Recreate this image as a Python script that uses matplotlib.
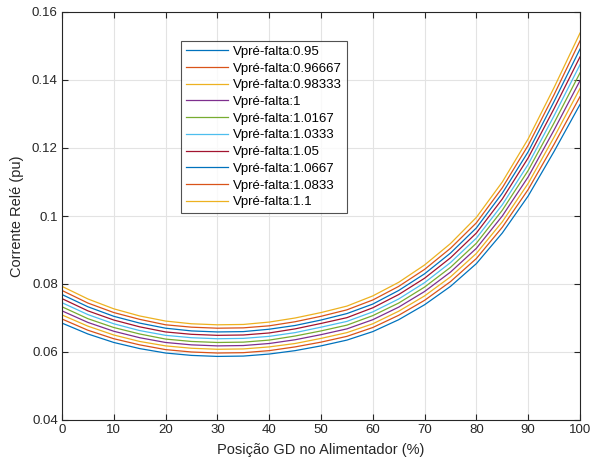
import numpy as np
import matplotlib
matplotlib.use('Agg')
import matplotlib.pyplot as plt
from matplotlib.ticker import FormatStrFormatter

plt.rcParams['font.family'] = ['Liberation Sans', 'DejaVu Sans']

# posicao da GD no alimentador (%)
posicao = [0, 5, 10, 15, 20, 25, 30, 35, 40, 45, 50, 55, 60, 65, 70, 75, 80, 85, 90, 95, 100]

legendas = ['Vpré-falta:0.95', 'Vpré-falta:0.96667', 'Vpré-falta:0.98333', 'Vpré-falta:1',
            'Vpré-falta:1.0167', 'Vpré-falta:1.0333', 'Vpré-falta:1.05', 'Vpré-falta:1.0667',
            'Vpré-falta:1.0833', 'Vpré-falta:1.1']

# corrente no rele (pu), uma lista por tensao pre-falta
i_095 = [0.0685, 0.0653, 0.0628, 0.0610, 0.0597, 0.0590, 0.0587, 0.0588, 0.0594, 0.0604, 0.0618,
         0.0635, 0.0660, 0.0695, 0.0739, 0.0793, 0.0860, 0.0950, 0.1059, 0.1190, 0.1328]
i_0967 = [0.0697, 0.0664, 0.0639, 0.0621, 0.0607, 0.0600, 0.0597, 0.0598, 0.0604, 0.0615, 0.0629,
          0.0646, 0.0672, 0.0708, 0.0752, 0.0807, 0.0875, 0.0967, 0.1078, 0.1211, 0.1351]
i_0983 = [0.0709, 0.0676, 0.0650, 0.0631, 0.0618, 0.0611, 0.0608, 0.0609, 0.0615, 0.0625, 0.0640,
          0.0657, 0.0683, 0.0720, 0.0765, 0.0821, 0.0890, 0.0983, 0.1096, 0.1232, 0.1375]
i_100 = [0.0721, 0.0687, 0.0661, 0.0642, 0.0628, 0.0621, 0.0618, 0.0619, 0.0625, 0.0636, 0.0651,
         0.0668, 0.0695, 0.0732, 0.0778, 0.0835, 0.0905, 0.1000, 0.1115, 0.1253, 0.1398]
i_1017 = [0.0733, 0.0698, 0.0672, 0.0653, 0.0638, 0.0631, 0.0628, 0.0629, 0.0635, 0.0647, 0.0662,
          0.0679, 0.0707, 0.0744, 0.0791, 0.0849, 0.0920, 0.1017, 0.1134, 0.1274, 0.1421]
i_1033 = [0.0745, 0.0710, 0.0683, 0.0663, 0.0649, 0.0642, 0.0639, 0.0640, 0.0646, 0.0657, 0.0673,
          0.0690, 0.0718, 0.0756, 0.0804, 0.0863, 0.0935, 0.1033, 0.1152, 0.1295, 0.1445]
i_105 = [0.0757, 0.0721, 0.0694, 0.0674, 0.0659, 0.0652, 0.0649, 0.0650, 0.0656, 0.0668, 0.0684,
         0.0701, 0.0730, 0.0769, 0.0817, 0.0877, 0.0950, 0.1050, 0.1171, 0.1316, 0.1468]
i_1067 = [0.0769, 0.0733, 0.0705, 0.0685, 0.0670, 0.0662, 0.0659, 0.0660, 0.0667, 0.0678, 0.0694,
          0.0713, 0.0741, 0.0781, 0.0830, 0.0891, 0.0965, 0.1067, 0.1189, 0.1337, 0.1491]
i_1083 = [0.0781, 0.0744, 0.0716, 0.0696, 0.0680, 0.0673, 0.0670, 0.0671, 0.0677, 0.0689, 0.0705,
          0.0724, 0.0753, 0.0793, 0.0843, 0.0905, 0.0980, 0.1083, 0.1208, 0.1357, 0.1515]
i_110 = [0.0793, 0.0756, 0.0727, 0.0706, 0.0691, 0.0683, 0.0680, 0.0681, 0.0688, 0.0700, 0.0716,
         0.0735, 0.0765, 0.0805, 0.0856, 0.0919, 0.0996, 0.1100, 0.1227, 0.1378, 0.1538]

correntes = [i_095, i_0967, i_0983, i_100, i_1017, i_1033, i_105, i_1067, i_1083, i_110]

# ordem de cores padrao do MATLAB
cores = ['#0072BD', '#D95319', '#EDB120', '#7E2F8E', '#77AC30', '#4DBEEE', '#A2142F']
cinza = '#262626'


def main():
    fig = plt.figure(figsize=(5.93, 4.63), dpi=100)
    ax = fig.add_axes([62/593, 1 - 420/463, 518/593, 408/463])

    for k, (i_rele, nome) in enumerate(zip(correntes, legendas)):
        ax.plot(posicao, i_rele, color=cores[k % len(cores)], lw=0.9, label=nome)

    ax.set_xlim(0, 100)
    ax.set_ylim(0.04, 0.16)
    ax.set_xticks(np.arange(0, 101, 10))
    ax.set_yticks(np.arange(0.04, 0.161, 0.02))
    ax.yaxis.set_major_formatter(FormatStrFormatter('%g'))
    ax.grid(True, color='#e3e3e3', lw=0.8)
    ax.set_axisbelow(True)
    ax.tick_params(direction='in', length=4, width=0.8, top=True, right=True,
                   colors=cinza, labelsize=9.5, pad=3)
    for lado in ax.spines.values():
        lado.set_color(cinza)
        lado.set_linewidth(0.8)

    ax.set_xlabel('Posição GD no Alimentador (%)', fontsize=10.5, color=cinza, labelpad=5)
    ax.set_ylabel('Corrente Relé (pu)', fontsize=10.5, color=cinza, labelpad=6)

    leg = ax.legend(loc='upper left', bbox_to_anchor=(181/593, 1 - 41/463),
                    bbox_transform=fig.transFigure, fontsize=9.5, frameon=True,
                    fancybox=False, borderaxespad=0, handlelength=3.2, handletextpad=0.4,
                    labelspacing=0.34, borderpad=0.35)
    leg.get_frame().set_edgecolor(cinza)
    leg.get_frame().set_linewidth(0.8)

    fig.savefig('out.png', dpi=100)


if __name__ == '__main__':
    main()
